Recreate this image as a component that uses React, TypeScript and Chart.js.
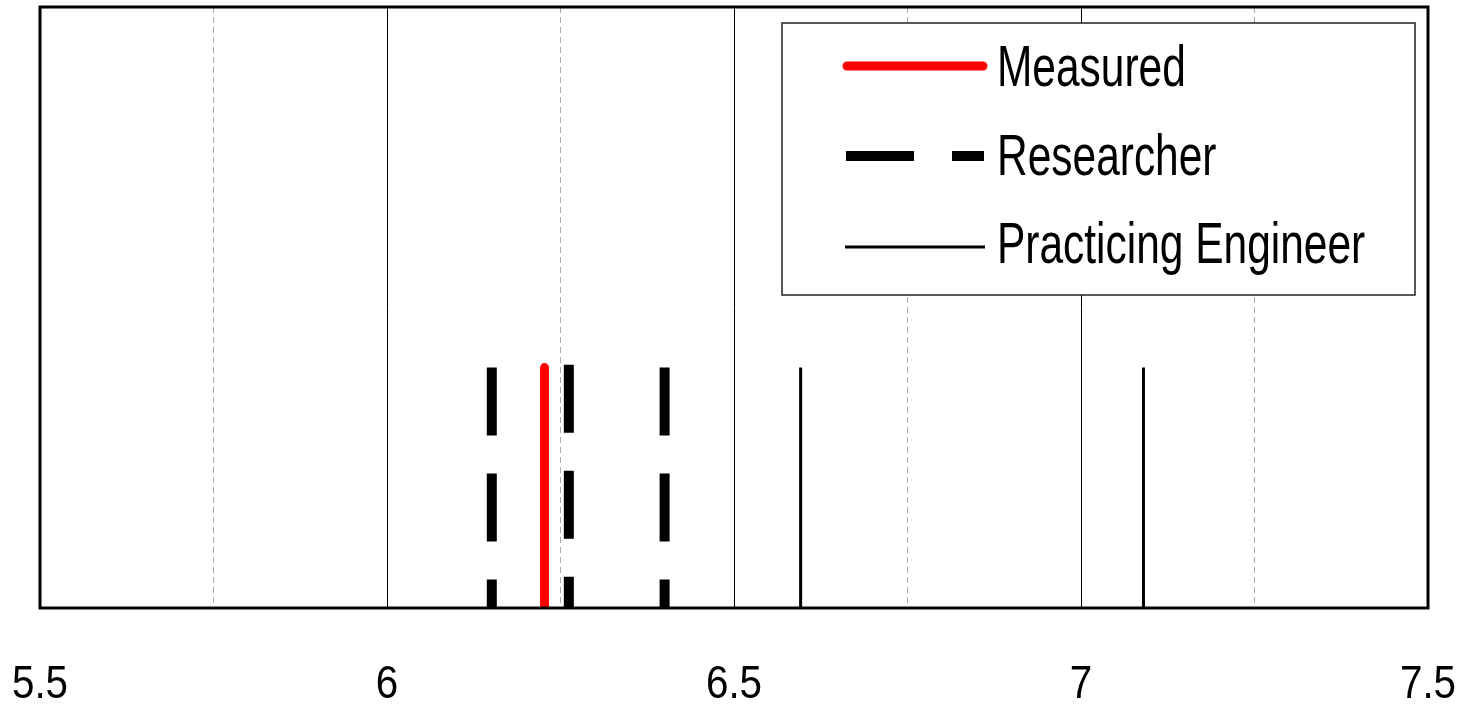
import { useEffect, useRef } from "react";
import { Chart, registerables } from "chart.js";

Chart.register(...registerables);

// ---- data ----
const xTickLabels = ["5.5", "6", "6.5", "7", "7.5"];
const seriesNames = ["Measured", "Researcher", "Practicing Engineer"];
const measuredX = [6.227];
const measuredTop = [1];
const researcherX = [6.151, 6.262, 6.4];
const researcherTop = [1, 1.012, 1];
const engineerX = [6.596, 7.09];
const engineerTop = [1, 1];
const xMin = 5.5;
const xMax = 7.5;
const yMin = 0;
const yMax = 2.5;

const FONT = "'Liberation Sans', Arial, sans-serif";

function vline(x: number, top: number) {
  return [
    { x, y: top },
    { x, y: 0 },
  ];
}

const styles = {
  measured: { color: "#ff0000", width: 9, dash: [] as number[], cap: "round" as CanvasLineCap },
  researcher: { color: "#000000", width: 10, dash: [68, 38], cap: "butt" as CanvasLineCap },
  engineer: { color: "#000000", width: 3, dash: [] as number[], cap: "butt" as CanvasLineCap },
};

function drawScaledText(ctx: CanvasRenderingContext2D, text: string, x: number, y: number, font: string, sx: number, align: "left" | "center") {
  ctx.save();
  ctx.font = font;
  ctx.textBaseline = "alphabetic";
  ctx.textAlign = "left";
  const w = ctx.measureText(text).width * sx;
  const x0 = align === "center" ? x - w / 2 : x;
  ctx.translate(x0, y);
  ctx.scale(sx, 1);
  ctx.fillStyle = "#000";
  ctx.fillText(text, 0, 0);
  ctx.restore();
}

const framePlugin = {
  id: "frameLegendTicks",
  afterDraw(chart: any) {
    const ctx: CanvasRenderingContext2D = chart.ctx;
    const a = chart.chartArea;
    const xs = chart.scales.x;
    // frame
    ctx.save();
    ctx.strokeStyle = "#000";
    ctx.lineWidth = 3;
    ctx.strokeRect(a.left, a.top, a.right - a.left, a.bottom - a.top);
    ctx.restore();

    // tick labels
    xTickLabels.forEach((lab) => {
      const px = xs.getPixelForValue(parseFloat(lab));
      drawScaledText(ctx, lab, px, 698, `47px ${FONT}`, 0.86, "center");
    });

    // legend
    const bx = 782, by = 23, bw = 633, bh = 272;
    ctx.save();
    ctx.fillStyle = "#fff";
    ctx.fillRect(bx, by, bw, bh);
    ctx.strokeStyle = "#222";
    ctx.lineWidth = 1.5;
    ctx.strokeRect(bx, by, bw, bh);
    ctx.restore();

    const rows = [
      { name: seriesNames[0], st: styles.measured, y: 66, base: 86, x1: 847, x2: 983 },
      { name: seriesNames[1], st: styles.researcher, y: 156, base: 175, x1: 846, x2: 984 },
      { name: seriesNames[2], st: styles.engineer, y: 247, base: 263, x1: 845, x2: 985 },
    ];
    rows.forEach((r) => {
      ctx.save();
      ctx.strokeStyle = r.st.color;
      ctx.lineWidth = r.st.width;
      ctx.lineCap = r.st.cap;
      ctx.setLineDash(r.st.dash);
      ctx.beginPath();
      ctx.moveTo(r.x1, r.y);
      ctx.lineTo(r.x2, r.y);
      ctx.stroke();
      ctx.restore();
      drawScaledText(ctx, r.name, 997, r.base, `57px ${FONT}`, 0.745, "left");
    });
  },
};

export default function App() {
  const ref = useRef<HTMLCanvasElement | null>(null);

  useEffect(() => {
    document.body.style.margin = "0";
    const canvas = ref.current;
    if (!canvas) return;

    const datasets: any[] = [];
    const mk = (label: string, x: number, top: number, st: any) => ({
      label,
      data: vline(x, top),
      borderColor: st.color,
      backgroundColor: st.color,
      borderWidth: st.width,
      borderDash: st.dash,
      borderCapStyle: st.cap,
      pointRadius: 0,
      pointHoverRadius: 0,
      fill: false,
      tension: 0,
      clip: 0,
    });
    researcherX.forEach((x, i) => datasets.push(mk(seriesNames[1], x, researcherTop[i], styles.researcher)));
    engineerX.forEach((x, i) => datasets.push(mk(seriesNames[2], x, engineerTop[i], styles.engineer)));
    measuredX.forEach((x, i) => datasets.push(mk(seriesNames[0], x, measuredTop[i], styles.measured)));

    const chart = new Chart(canvas, {
      type: "line",
      data: { datasets },
      options: {
        animation: false,
        responsive: false,
        maintainAspectRatio: false,
        layout: { padding: { left: 40, right: 38, top: 7, bottom: 0 } },
        plugins: { legend: { display: false }, tooltip: { enabled: false } },
        events: [],
        scales: {
          x: {
            type: "linear",
            min: xMin,
            max: xMax,
            ticks: { stepSize: 0.25, display: false },
            grid: {
              drawTicks: false,
              lineWidth: 1,
              color: (c: any) => {
                const v = c.tick ? c.tick.value : 0;
                return Math.abs(v * 2 - Math.round(v * 2)) < 1e-6 ? "#000000" : "#ababab";
              },
            },
            border: {
              display: false,
              dash: (c: any) => {
                if (!c.tick) return [];
                const v = c.tick.value;
                return Math.abs(v * 2 - Math.round(v * 2)) < 1e-6 ? [] : [6, 4];
              },
            },
            afterFit: (s: any) => {
              s.height = 97;
            },
          },
          y: {
            type: "linear",
            display: false,
            min: yMin,
            max: yMax,
          },
        },
      },
      plugins: [framePlugin],
    });
    return () => chart.destroy();
  }, []);

  return (
    <div style={{ width: 1466, height: 705, background: "#fff" }}>
      <canvas ref={ref} width={1466} height={705} style={{ display: "block" }} />
    </div>
  );
}
